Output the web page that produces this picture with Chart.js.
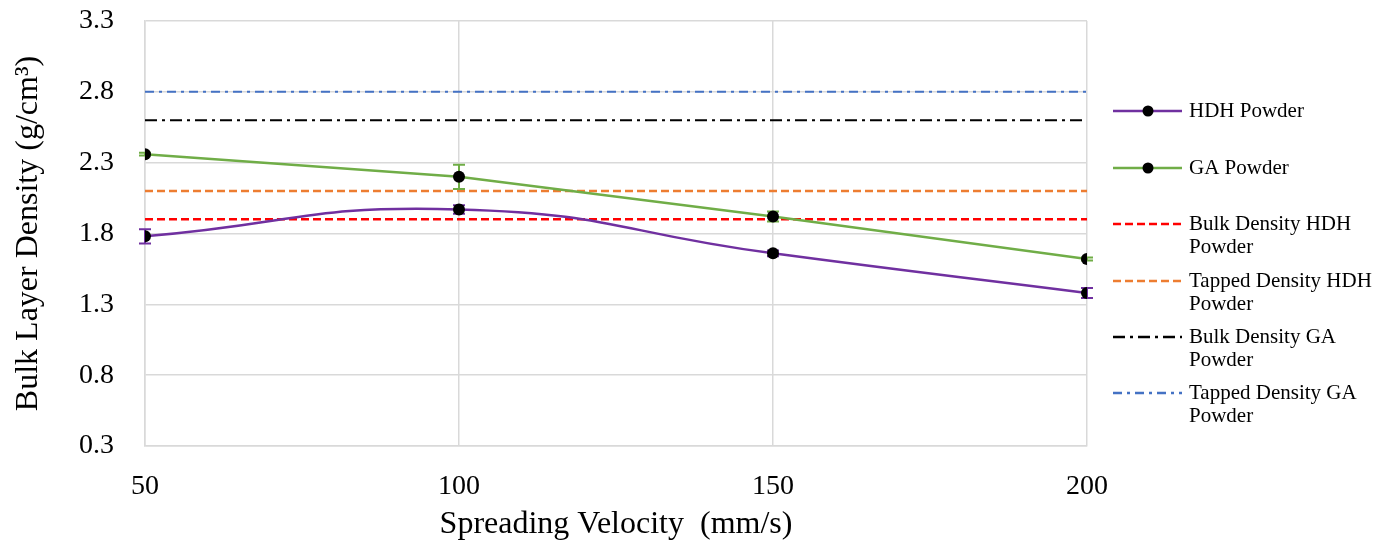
<!DOCTYPE html>
<html>
<head>
<meta charset="utf-8">
<script src="https://cdn.jsdelivr.net/npm/chart.js@4.4.1/dist/chart.umd.min.js"></script>
<style>
	body { margin: 0; background: #fff; }
	#wrap { width: 1395px; height: 550px; }
</style>
</head>
<body>
<div id="wrap"><canvas id="densityChart"></canvas></div>
<script>
const velocities = [50, 100, 150, 200];
const hdhDensity = [1.78, 1.97, 1.66, 1.38];
const hdhError = [0.05, 0.03, 0.02, 0.035];
const gaDensity = [2.36, 2.2, 1.92, 1.62];
const gaError = [0.01, 0.085, 0.035, 0.01];

const bulkHdh = 1.9;
const tappedHdh = 2.1;
const bulkGa = 2.6;
const tappedGa = 2.8;

const xTicks = [50, 100, 150, 200];
const yTicks = [0.3, 0.8, 1.3, 1.8, 2.3, 2.8, 3.3];

Chart.defaults.font.family = "'Liberation Serif', 'Times New Roman', serif";
Chart.defaults.color = '#000';

function points(ys) {
	return velocities.map((v, i) => ({ x: v, y: ys[i] }));
}
function flat(value) {
	return [{ x: velocities[0], y: value }, { x: velocities[velocities.length - 1], y: value }];
}

// vertical error bars, drawn just before the dataset they belong to
const errorBars = {
	id: 'errorBars',
	beforeDatasetDraw(chart, args) {
		const ds = chart.data.datasets[args.index];
		if (!ds.errors) return;
		const { ctx, scales: { x, y } } = chart;
		ctx.save();
		ctx.strokeStyle = ds.borderColor;
		ctx.lineWidth = 2;
		ds.data.forEach((p, i) => {
			const px = x.getPixelForValue(p.x);
			const top = y.getPixelForValue(p.y + ds.errors[i]);
			const bot = y.getPixelForValue(p.y - ds.errors[i]);
			ctx.beginPath();
			ctx.moveTo(px, top); ctx.lineTo(px, bot);
			ctx.moveTo(px - 6, top); ctx.lineTo(px + 6, top);
			ctx.moveTo(px - 6, bot); ctx.lineTo(px + 6, bot);
			ctx.stroke();
		});
		ctx.restore();
	}
};

// legend on the right, with wrapped labels
const sideLegend = {
	id: 'sideLegend',
	afterDraw(chart) {
		const { ctx } = chart;
		const rows = [111, 168, 224, 281, 337, 393];
		ctx.save();
		ctx.font = "21px 'Liberation Serif', serif";
		ctx.textBaseline = 'middle';
		ctx.fillStyle = '#000';
		chart.data.datasets.forEach((ds, i) => {
			const y = rows[i];
			ctx.strokeStyle = ds.borderColor;
			ctx.lineWidth = 2.5;
			ctx.setLineDash(ds.borderDash || []);
			ctx.beginPath();
			ctx.moveTo(1113, y);
			ctx.lineTo(1182, y);
			ctx.stroke();
			ctx.setLineDash([]);
			if (ds.pointRadius > 0) {
				ctx.fillStyle = ds.pointBackgroundColor;
				ctx.beginPath();
				ctx.arc(1148, y, 5.5, 0, Math.PI * 2);
				ctx.fill();
				ctx.fillStyle = '#000';
			}
			ds.legendLines.forEach((t, k) => ctx.fillText(t, 1189, y + k * 23));
		});
		ctx.restore();
	}
};

new Chart(document.getElementById('densityChart'), {
	type: 'line',
	data: {
		datasets: [{
			label: 'HDH Powder',
			legendLines: ['HDH Powder'],
			data: points(hdhDensity),
			errors: hdhError,
			borderColor: '#7030A0',
			borderWidth: 2.5,
			tension: 0.5,
			pointRadius: 6,
			pointBackgroundColor: '#000',
			pointBorderWidth: 0
		}, {
			label: 'GA Powder',
			legendLines: ['GA Powder'],
			data: points(gaDensity),
			errors: gaError,
			borderColor: '#70AD47',
			borderWidth: 2.5,
			tension: 0,
			pointRadius: 6,
			pointBackgroundColor: '#000',
			pointBorderWidth: 0
		}, {
			label: 'Bulk Density HDH Powder',
			legendLines: ['Bulk Density HDH', 'Powder'],
			data: flat(bulkHdh),
			borderColor: '#FF0000',
			borderWidth: 2.5,
			borderDash: [8, 4],
			pointRadius: 0
		}, {
			label: 'Tapped Density HDH Powder',
			legendLines: ['Tapped Density HDH', 'Powder'],
			data: flat(tappedHdh),
			borderColor: '#ED7D31',
			borderWidth: 2.5,
			borderDash: [8, 4],
			pointRadius: 0
		}, {
			label: 'Bulk Density GA Powder',
			legendLines: ['Bulk Density GA', 'Powder'],
			data: flat(bulkGa),
			borderColor: '#000000',
			borderWidth: 2,
			borderDash: [12, 5, 3, 5],
			pointRadius: 0
		}, {
			label: 'Tapped Density GA Powder',
			legendLines: ['Tapped Density GA', 'Powder'],
			data: flat(tappedGa),
			borderColor: '#4472C4',
			borderWidth: 2,
			borderDash: [9, 5, 3, 5],
			pointRadius: 0
		}]
	},
	options: {
		responsive: true,
		maintainAspectRatio: false,
		animation: false,
		layout: { padding: { left: 0, right: 308, top: 21, bottom: 0 } },
		plugins: {
			legend: { display: false },
			tooltip: { enabled: false }
		},
		scales: {
			x: {
				type: 'linear',
				min: 50,
				max: 200,
				afterBuildTicks: s => { s.ticks = xTicks.map(v => ({ value: v })); },
				afterFit: s => {
					s.height = 104;
					s.paddingLeft = 0;
					s.paddingRight = 0;
				},
				ticks: {
					padding: 24,
					font: { size: 28 },
					callback: v => String(v)
				},
				grid: { color: '#d9d9d9', lineWidth: 1.5, drawTicks: false },
				border: { color: '#d9d9d9', width: 1.5 },
				title: {
					display: true,
					text: 'Spreading Velocity  (mm/s)',
					font: { size: 32 },
					padding: { top: 0, bottom: 6 }
				}
			},
			y: {
				type: 'linear',
				min: 0.3,
				max: 3.3,
				afterBuildTicks: s => { s.ticks = yTicks.map(v => ({ value: v })); },
				afterFit: s => {
					s.width = 145;
					s.paddingTop = 0;
					s.paddingBottom = 0;
				},
				ticks: {
					padding: 31,
					font: { size: 28 },
					callback: v => v.toFixed(1)
				},
				grid: { color: '#d9d9d9', lineWidth: 1.5, drawTicks: false },
				border: { color: '#d9d9d9', width: 1.5 },
				title: {
					display: true,
					text: 'Bulk Layer Density (g/cm³)',
					font: { size: 32 },
					padding: { top: 9, bottom: 0 }
				}
			}
		}
	},
	plugins: [errorBars, sideLegend]
});
</script>
</body>
</html>
